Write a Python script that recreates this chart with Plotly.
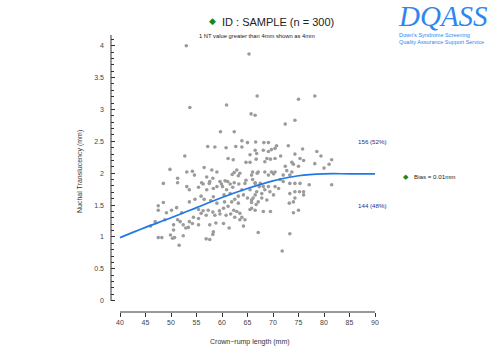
import plotly.graph_objects as go

# ---------------- data ----------------
crl_mm = [
    53.0, 65.3, 66.9, 53.7, 60.9, 65.7, 66.5, 59.7, 62.4, 75.0, 78.2, 72.4, 74.3,
    57.2, 58.6, 60.8, 62.7, 63.9, 65.0, 63.9, 65.5, 66.5, 52.7,
    61.2, 62.2, 64.7, 65.5, 66.7, 62.9, 49.8, 53.1, 54.2, 54.6,
    56.5, 58.0, 59.0, 62.4, 63.5, 63.2, 62.0, 66.0, 66.9, 51.3,
    51.3, 48.5, 57.0, 58.2, 57.6, 56.0, 56.3, 57.5, 59.6, 59.9,
    60.6, 61.1, 61.6, 62.4, 63.3, 64.7, 64.5, 66.0, 66.5, 53.1,
    53.6, 55.4, 57.0, 58.3, 59.0, 60.1, 60.9, 62.1, 63.9, 65.5,
    67.3, 55.9, 56.5, 58.3, 60.4, 61.6, 63.2, 62.5, 64.2, 65.0,
    66.5, 54.7, 53.6, 57.8, 59.0, 60.5, 61.9, 63.2, 65.8, 66.7,
    47.5, 47.5, 48.5, 50.1, 49.1, 51.1, 52.1, 55.4, 56.3, 55.9,
    57.3, 58.2, 59.5, 60.3, 61.2, 62.3, 63.5, 62.9, 65.5, 66.5,
    54.4, 55.4, 56.9, 58.6, 59.6, 60.8, 61.7, 62.5, 63.9, 64.5,
    51.3, 51.8, 53.6, 46.9, 46.0, 48.8, 50.5, 52.4, 54.2, 57.6,
    58.8, 60.3, 63.5, 55.4, 52.9, 53.4, 50.5, 47.5, 48.2, 49.9,
    50.3, 50.7, 52.4, 56.9, 57.6, 58.3, 58.2, 61.4, 64.2, 67.1,
    51.6,
    66.6, 68.2, 69.1, 70.7, 70.4, 73.0, 75.8,
    66.8, 68.1, 69.1, 69.7, 68.8, 68.4, 69.5, 70.4, 71.5, 74.3,
    75.3, 78.6, 79.4, 81.5, 81.0, 80.0, 78.2, 72.4, 73.7, 74.0,
    75.0, 76.0, 72.7, 65.8, 67.1, 68.4, 69.7, 70.1, 70.4, 69.1,
    73.7, 73.3, 72.0, 71.4, 72.0, 73.3, 74.3, 75.3, 77.1, 81.5,
    66.5, 67.5, 68.1, 69.1, 70.4, 71.1, 69.4, 70.1, 68.4, 66.8,
    67.8, 66.1, 65.8, 67.8, 68.8, 67.1, 73.3, 74.3, 75.2, 76.0,
    76.0, 74.3, 74.0, 73.2, 65.8,
    68.1, 69.5, 75.0, 74.0, 73.3, 71.8,
]
nt_mm = [
    4.00, 3.87, 3.21, 3.03, 3.07, 2.93, 2.91, 2.65, 2.65, 3.16, 3.21, 2.77, 2.83,
    2.42, 2.41, 2.40, 2.42, 2.51, 2.48, 2.41, 2.29, 2.36, 2.27,
    2.23, 2.21, 2.17, 2.17, 2.22, 2.05, 2.06, 2.02, 2.03, 1.97,
    2.09, 2.05, 2.02, 2.01, 2.00, 1.96, 1.98, 2.02, 2.00, 1.92,
    1.85, 1.84, 1.94, 1.92, 1.87, 1.85, 1.83, 1.84, 1.87, 1.83,
    1.88, 1.87, 1.83, 1.85, 1.83, 1.89, 1.84, 1.90, 1.84, 1.79,
    1.74, 1.78, 1.74, 1.76, 1.79, 1.79, 1.74, 1.78, 1.74, 1.74,
    1.79, 1.64, 1.59, 1.63, 1.66, 1.68, 1.64, 1.59, 1.66, 1.61,
    1.66, 1.59, 1.55, 1.57, 1.53, 1.55, 1.55, 1.53, 1.54, 1.51,
    1.49, 1.42, 1.54, 1.42, 1.38, 1.46, 1.38, 1.43, 1.41, 1.37,
    1.42, 1.39, 1.41, 1.45, 1.48, 1.42, 1.37, 1.40, 1.43, 1.42,
    1.31, 1.29, 1.34, 1.34, 1.36, 1.34, 1.36, 1.31, 1.31, 1.27,
    1.27, 1.24, 1.24, 1.24, 1.17, 1.27, 1.19, 1.19, 1.21, 1.19,
    1.22, 1.21, 1.27, 1.19, 1.14, 1.15, 1.11, 0.99, 0.99, 1.03,
    0.98, 0.99, 1.02, 0.97, 0.96, 1.08, 1.04, 1.14, 1.17, 1.07,
    0.87,
    2.49, 2.48, 2.48, 2.43, 2.39, 2.43, 2.38,
    2.31, 2.36, 2.34, 2.37, 2.23, 2.18, 2.22, 2.23, 2.27, 2.30,
    2.23, 2.34, 2.27, 2.21, 2.14, 2.08, 2.15, 2.11, 2.17, 2.14,
    2.11, 2.20, 2.04, 1.97, 2.02, 2.02, 2.02, 1.99, 2.02, 1.97,
    2.02, 1.97, 1.97, 1.90, 1.87, 1.84, 1.84, 1.84, 1.82, 1.82,
    1.85, 1.84, 1.79, 1.79, 1.79, 1.76, 1.71, 1.66, 1.74, 1.71,
    1.68, 1.61, 1.58, 1.61, 1.58, 1.55, 1.68, 1.71, 1.71, 1.71,
    1.66, 1.61, 1.55, 1.53, 1.45,
    1.40, 1.40, 1.42, 1.38, 1.05, 0.78,
]
assert len(crl_mm) == len(nt_mm)

curve_crl = [40, 45, 50, 55, 60, 65, 70, 75, 80, 85, 90]
curve_nt = [0.99, 1.15, 1.30, 1.46, 1.62, 1.76, 1.88, 1.96, 1.99, 1.99, 1.99]

x_ticks = [40, 45, 50, 55, 60, 65, 70, 75, 80, 85, 90]
y_ticks = [0, 0.5, 1, 1.5, 2, 2.5, 3, 3.5, 4]
y_minor = [round(i * 0.1, 1) for i in range(42) if i % 5 != 0]

title_text = "ID : SAMPLE (n = 300)"
subtitle_text = "1 NT value greater than 4mm shown as 4mm"
logo_text = "DQASS"
logo_sub = ["Down's Syndrome Screening", "Quality Assurance Support Service"]
above_text = "156 (52%)"
below_text = "144 (48%)"
bias_text = "Bias = 0.01mm"
x_title = "Crown\u2212rump length (mm)"
y_title = "Nuchal Translucency (mm)"

# ---------------- layout geometry ----------------
W, H = 503, 356
L, R, T, B = 111, 380, 35, 312   # plot area in pixels

def px(x):
    return (x - L) / (R - L)

def py(y):
    return (B - y) / (B - T)

FONT = "Liberation Sans, Arial, sans-serif"
GREEN = "#168a16"
NAVY = "#25318a"
BLUE_LOGO = "#2f86ef"

fig = go.Figure()
fig.add_trace(go.Scatter(
    x=crl_mm, y=nt_mm, mode="markers",
    marker=dict(size=3.6, color="#9b9b9b", line=dict(width=0)),
    hoverinfo="skip", showlegend=False, cliponaxis=False))
fig.add_trace(go.Scatter(
    x=curve_crl, y=curve_nt, mode="lines",
    line=dict(color="#1f78e8", width=1.7, shape="spline"),
    hoverinfo="skip", showlegend=False))

fig.update_layout(
    width=W, height=H,
    margin=dict(l=L, r=W - R, t=T, b=H - B, pad=0),
    paper_bgcolor="white", plot_bgcolor="white",
    font=dict(family=FONT, size=7, color="#333"),
    xaxis=dict(range=[40 - 9 / 5.1, 40 + 260 / 5.1], tickmode="array",
               tickvals=x_ticks, ticks="outside", ticklen=4, tickwidth=1,
               tickcolor="#333", showgrid=False, zeroline=False,
               showline=False, tickfont=dict(size=7, color="#444")),
    yaxis=dict(range=[(300.7 - B) / 63.75, (300.7 - T) / 63.75],
               tickmode="array", tickvals=y_ticks, ticks="inside",
               ticklen=4, tickwidth=1, tickcolor="#333", showgrid=False,
               zeroline=False, showline=False, ticklabelstandoff=6,
               tickfont=dict(size=7, color="#444"),
               minor=dict(tickmode="array", tickvals=y_minor, ticks="inside",
                          ticklen=2.5, tickwidth=1, tickcolor="#333",
                          showgrid=False)),
)

# axis lines (detached, R style)
fig.add_shape(type="line", xref="paper", yref="y", x0=0, x1=0,
              y0=0, y1=(300.7 - T) / 63.75, line=dict(color="#333", width=1))
fig.add_shape(type="line", xref="x", yref="paper", x0=40, x1=90,
              y0=0, y1=0, line=dict(color="#333", width=1))

def text(x, y, s, size, color="#333", xanchor="left", family=FONT):
    fig.add_annotation(xref="paper", yref="paper", x=px(x), y=py(y),
                       text=s, showarrow=False, xanchor=xanchor,
                       yanchor="middle", align="left",
                       font=dict(size=size, color=color, family=family))

# title
text(212, 21.5, "\u25c6", 9, GREEN, "center")
text(220, 22, title_text, 11, "#222")
text(197, 36.5, subtitle_text, 5.8, "#222")

# logo
text(396, 15.5, "<i>" + logo_text + "</i>", 29, BLUE_LOGO,
     family="Liberation Serif, Times New Roman, serif")
text(397, 38, "<br>".join(logo_sub), 5.5, BLUE_LOGO)

# right-side labels
text(372, 141.5, above_text, 6.2, NAVY, "center")
text(372, 205, below_text, 6.2, NAVY, "center")
text(405.5, 176.5, "\u25c6", 6.5, GREEN, "center")
text(412, 176, bias_text, 6.2, "#222")

# axis titles
text(250, 342, x_title, 7, "#333", "center")
fig.add_annotation(xref="paper", yref="paper", x=px(80), y=py(172),
                   text=y_title, showarrow=False, textangle=-90,
                   xanchor="center", yanchor="middle",
                   font=dict(size=7, color="#333", family=FONT))

fig.write_html(
    "out.html",
    config={"displayModeBar": False},
    post_script="document.body.style.margin='0';"
                "document.body.style.overflow='hidden';")
